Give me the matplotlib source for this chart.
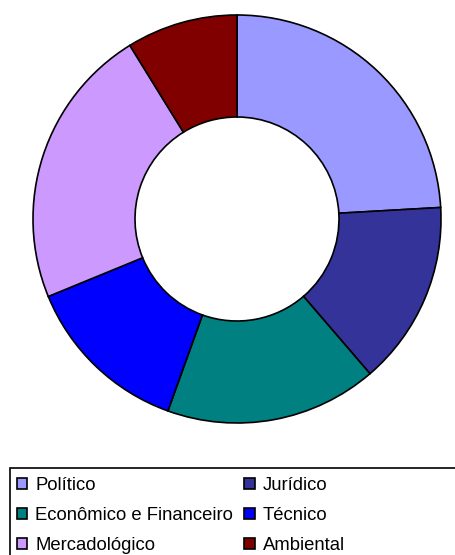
import matplotlib
matplotlib.use("Agg")
import matplotlib.pyplot as plt
from matplotlib.patches import Rectangle

labels = ["Político", "Jurídico", "Econômico e Financeiro", "Técnico",
          "Mercadológico", "Ambiental"]
values = [24.1, 14.6, 16.8, 13.3, 22.4, 8.8]
colors = ["#9999FF", "#333399", "#008080", "#0000FF", "#CC99FF", "#800000"]

W, H = 455, 555
plt.rcParams["font.family"] = ["Liberation Sans", "DejaVu Sans"]

fig = plt.figure(figsize=(W / 100, H / 100), dpi=100)

# donut: centre (237, 219) px from top, outer radius 204 px
cx, cy, r = 237, 219, 204
ax = fig.add_axes([(cx - r) / W, (H - cy - r) / H, 2 * r / W, 2 * r / H])
wedges, _ = ax.pie(values, colors=colors, startangle=90, counterclock=False,
                   radius=1.0, wedgeprops=dict(width=0.5, edgecolor="black", linewidth=1.2))
ax.set_xlim(-1, 1)
ax.set_ylim(-1, 1)
ax.set_aspect("equal")
ax.axis("off")

# legend frame (runs off the right and bottom edge)
fig.patches.append(Rectangle((10 / W, -0.1), 1.0, (H - 468) / H + 0.1,
                             transform=fig.transFigure, fill=False,
                             edgecolor="black", linewidth=1.2))

order = [0, 2, 4, 1, 3, 5]
fig.legend([wedges[i] for i in order], [labels[i] for i in order],
           ncol=2, loc="upper left", bbox_to_anchor=(17 / W, (H - 477) / H),
           frameon=False, fontsize=13.3, handlelength=0.55, handleheight=0.55,
           handletextpad=0.45, columnspacing=0.6, labelspacing=0.71,
           borderpad=0, borderaxespad=0)

fig.savefig("out.png", dpi=100)
